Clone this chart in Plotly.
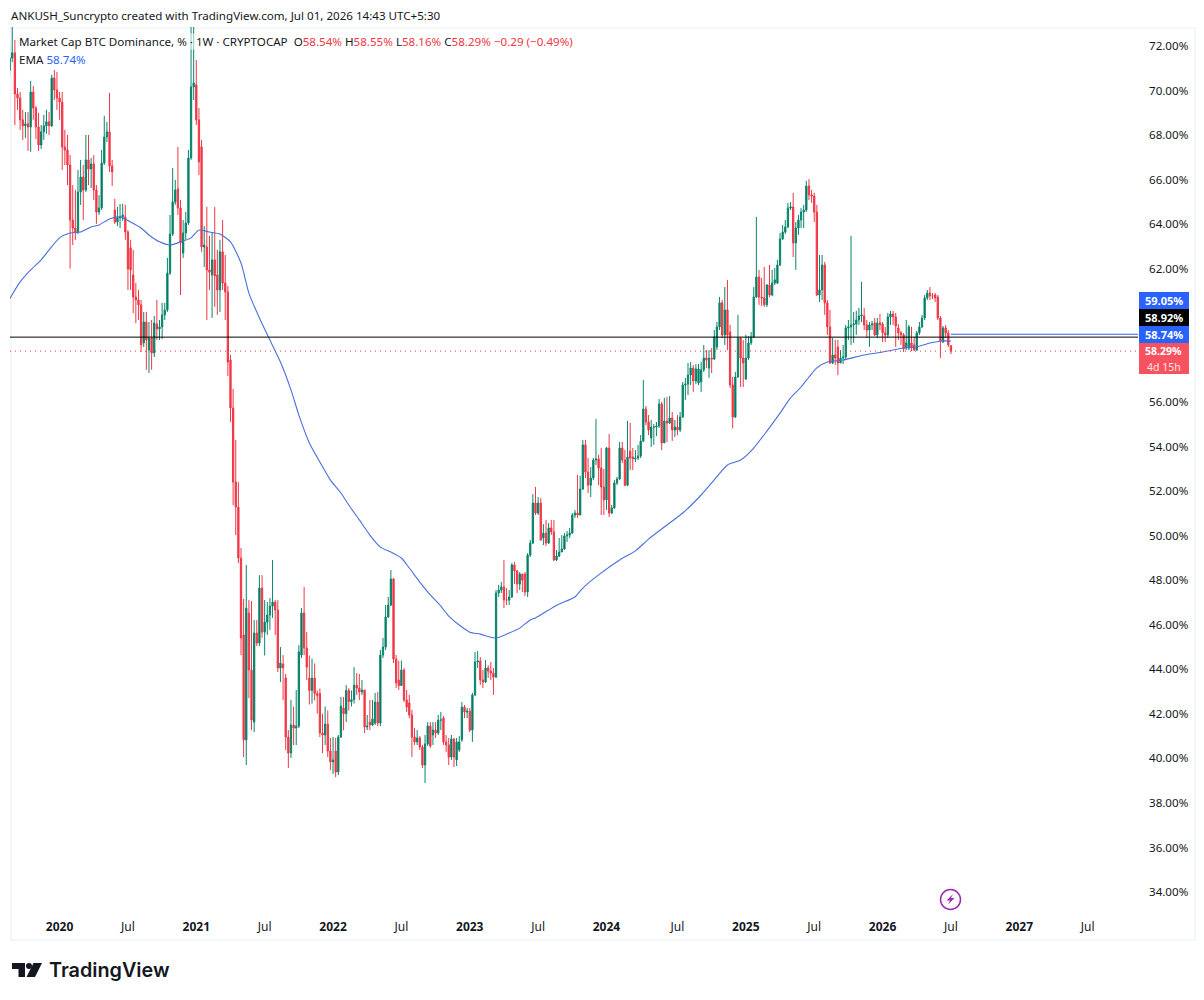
import pandas as pd
import plotly.graph_objects as go

# Weekly BTC dominance, percent. Rows hold ten weeks each.
closes = [
71.46,71.69,69.84,69.66,68.68,68.41,68.50,68.36,69.93,69.21,
68.36,67.55,68.14,68.41,68.59,68.41,70.56,70.02,69.66,69.48,
67.46,67.33,66.65,64.18,63.82,63.64,65.44,66.11,65.53,66.88,
66.47,66.70,65.53,64.54,64.72,66.74,67.91,68.14,66.61,66.34,
64.09,64.27,64.32,64.41,63.64,61.98,61.94,60.72,60.59,60.37,
58.57,59.60,58.79,58.88,58.21,59.56,59.29,59.38,59.92,60.14,
61.80,63.55,64.99,65.53,64.72,63.15,63.60,64.05,66.97,70.16,
70.34,68.68,66.79,62.97,63.06,61.94,61.84,62.39,61.67,61.04,
62.75,61.35,60.95,57.80,55.74,52.41,51.29,49.00,45.41,40.83,
46.75,43.97,41.72,45.63,45.18,47.65,45.67,46.12,46.44,46.84,
47.02,46.66,44.06,44.28,44.06,40.96,40.24,41.50,41.36,41.45,
44.78,46.53,44.96,44.10,43.05,43.61,42.91,42.82,41.14,41.05,
41.54,40.33,39.84,39.93,39.39,40.96,42.35,42.01,43.05,42.55,
42.64,43.29,43.16,42.98,43.07,41.41,41.45,41.50,41.77,42.53,
41.59,44.64,45.00,46.35,46.89,48.06,44.46,43.39,43.27,43.97,
42.62,42.31,41.95,40.96,40.74,40.92,40.51,39.70,40.65,41.45,
40.56,41.27,41.14,41.72,41.72,40.74,40.60,40.06,40.87,40.06,
40.74,40.74,42.30,42.08,42.12,41.27,42.85,44.33,44.37,43.52,
43.43,44.06,43.92,43.83,43.65,47.43,47.56,47.70,47.11,47.11,
47.25,48.69,48.42,47.83,48.28,48.01,47.47,49.13,49.67,51.47,
51.02,51.47,49.81,50.12,49.67,50.35,50.17,48.91,49.09,49.27,
49.41,49.99,50.03,50.12,50.93,51.02,50.93,52.10,54.08,52.86,
52.27,52.59,53.40,53.45,53.04,52.19,51.61,53.94,51.02,51.25,
52.37,52.55,53.94,53.40,52.27,53.54,53.49,53.45,53.49,53.58,
54.25,55.69,55.11,54.75,54.88,54.88,54.93,55.92,54.17,55.15,
55.06,55.29,54.75,54.88,54.75,55.33,56.77,56.81,57.22,57.53,
56.95,57.49,57.49,57.45,57.98,57.89,57.98,57.94,58.93,59.38,
60.46,59.02,60.14,59.02,56.77,55.33,57.13,58.88,57.98,57.76,
57.98,58.66,58.93,60.72,61.62,60.72,60.68,60.37,61.26,60.81,
61.35,61.49,62.16,63.33,63.64,63.87,64.72,64.77,63.15,63.82,
64.18,64.54,64.63,65.71,65.31,65.26,64.54,60.81,61.04,62.16,
60.46,59.38,57.76,58.12,57.98,57.76,57.98,58.03,59.33,59.38,
59.47,59.51,59.69,59.87,59.92,59.47,59.24,59.47,59.51,59.02,
59.56,59.47,59.11,59.02,59.83,59.96,59.83,59.42,59.11,59.02,
58.39,58.66,59.38,58.43,58.34,59.11,59.38,59.78,60.68,60.90,
60.77,60.77,60.68,59.78,58.75,59.33,59.11,58.57,58.29,
]
highs = [
72.00,72.85,72.27,70.11,69.93,69.13,69.03,69.03,70.43,70.20,
69.30,68.99,68.45,68.90,69.13,69.03,70.70,70.92,70.83,69.93,
69.93,68.23,68.00,67.10,65.75,65.53,66.43,66.88,66.65,68.00,
68.00,66.97,67.10,65.75,65.30,67.33,68.86,68.59,69.89,66.88,
65.13,64.77,64.90,64.90,64.86,63.73,63.29,62.84,61.35,61.04,
60.59,60.05,60.05,59.60,59.69,59.87,60.59,59.69,60.46,60.46,
62.48,64.41,66.52,65.98,67.46,65.08,64.18,64.54,67.33,72.85,
72.85,71.37,69.21,67.78,63.91,64.77,63.47,63.60,64.77,62.84,
63.29,64.18,62.61,61.22,58.12,56.59,54.30,52.41,49.45,47.16,
48.69,47.11,47.07,46.21,46.21,48.23,48.23,47.11,47.02,47.20,
48.91,47.11,47.11,45.00,44.64,43.79,41.27,42.62,42.33,43.07,
45.09,46.75,47.70,45.68,44.62,44.48,44.26,43.05,43.14,42.01,
42.33,42.15,40.92,40.96,40.92,41.05,42.76,42.76,43.29,43.16,
43.05,44.10,43.83,43.79,43.52,43.07,41.95,42.62,42.62,42.94,
42.98,44.87,45.41,46.89,47.25,48.46,48.10,44.64,44.39,44.39,
44.06,43.07,42.85,42.17,41.36,41.27,41.00,40.60,41.05,41.63,
41.63,41.63,41.63,41.95,42.08,41.90,41.05,40.92,41.05,40.92,
40.92,41.00,42.53,42.40,42.26,42.26,42.94,44.78,44.82,44.55,
43.97,44.42,44.19,44.33,44.06,47.56,47.79,47.92,48.91,47.65,
47.56,48.77,48.82,48.46,48.37,48.28,48.37,49.22,49.81,51.87,
52.19,51.74,51.69,50.52,50.71,50.57,50.71,50.71,49.36,49.90,
50.03,50.12,50.21,50.35,51.02,51.16,52.73,52.69,54.30,54.30,
53.49,53.09,53.49,55.25,53.63,53.94,53.00,53.99,54.57,51.38,
52.50,52.64,54.21,54.21,53.85,55.16,55.07,53.94,53.85,54.08,
54.52,57.00,55.83,55.42,55.20,55.02,55.11,56.14,56.01,56.19,
56.23,56.27,55.56,55.20,55.42,55.56,56.91,57.09,57.76,57.80,
57.67,57.71,57.71,57.80,58.57,58.34,58.34,58.43,59.24,59.60,
60.73,60.59,61.17,61.49,59.47,57.13,57.36,59.92,58.93,58.79,
59.02,58.97,59.15,61.17,64.32,61.94,61.58,62.07,61.31,62.16,
61.94,62.03,62.39,63.60,63.96,64.18,64.95,64.99,65.40,64.09,
64.41,64.72,64.86,65.94,66.02,65.53,65.40,64.86,62.61,62.61,
62.30,60.59,60.14,58.88,58.79,58.79,58.34,58.57,59.47,59.69,
63.47,60.05,60.10,60.23,61.40,60.23,59.69,59.60,59.65,59.78,
59.78,59.96,59.60,59.38,60.01,60.10,60.10,60.01,59.51,59.20,
59.11,59.69,59.47,59.38,58.93,59.20,59.60,59.92,60.81,61.04,
61.17,60.90,60.90,60.81,59.87,59.42,59.47,59.24,58.55,
]
lows = [
70.65,71.28,68.45,69.13,68.23,67.78,67.87,67.28,67.24,68.68,
67.82,67.28,67.37,67.78,68.05,68.00,68.36,69.57,69.13,68.68,
66.43,66.65,65.75,62.00,63.06,63.29,63.55,64.86,64.18,65.44,
65.75,65.62,65.08,64.00,64.41,64.63,66.65,67.69,66.34,65.71,
64.00,63.91,63.82,64.14,63.29,61.04,61.04,60.00,59.55,59.69,
58.25,58.48,57.45,57.31,57.45,58.03,58.79,58.79,58.84,59.69,
60.05,61.71,63.46,64.86,64.41,60.81,62.48,63.29,63.96,66.88,
69.57,68.45,66.20,62.75,62.07,59.69,61.04,59.78,60.28,59.92,
60.05,61.04,59.69,57.17,55.11,51.38,50.03,48.77,44.64,40.06,
39.70,42.71,41.27,41.18,45.05,45.05,45.41,44.62,45.54,45.77,
46.31,45.54,43.88,43.43,42.62,40.38,39.57,40.02,40.60,40.60,
41.36,44.51,44.64,43.52,42.42,42.46,42.60,42.01,40.96,40.24,
40.60,40.06,39.48,39.30,39.16,39.25,40.92,41.27,41.63,42.15,
42.33,42.46,42.85,42.62,42.85,41.14,41.27,41.27,41.45,41.50,
41.45,41.45,44.51,44.87,46.31,46.84,44.28,43.16,43.07,43.52,
42.53,42.08,41.81,40.06,40.60,40.60,40.38,39.57,38.89,40.56,
40.47,40.60,40.92,41.05,41.27,40.60,40.29,39.70,39.93,39.61,
39.66,40.29,40.74,41.81,41.81,41.18,40.74,42.80,44.06,43.30,
43.16,43.39,43.61,43.52,42.85,43.61,47.25,47.43,46.75,46.89,
46.89,47.20,47.83,47.43,47.56,47.47,47.29,47.25,49.04,49.63,
50.93,50.93,49.77,49.58,49.54,49.63,50.03,48.86,48.86,49.04,
49.27,49.36,49.72,49.90,50.08,50.80,50.80,50.93,52.05,52.59,
51.92,51.74,52.50,53.18,52.27,50.93,50.93,51.16,50.84,50.97,
51.20,52.27,52.50,53.27,52.23,52.23,52.95,52.95,53.31,53.40,
53.49,54.21,54.97,54.52,53.99,54.08,54.48,54.84,53.85,54.17,
54.21,55.02,54.26,54.43,54.52,54.66,55.29,56.10,56.32,56.77,
56.46,56.81,56.77,56.46,57.36,57.53,57.09,57.31,57.89,58.34,
59.24,58.88,58.57,58.34,56.64,54.82,55.29,57.09,56.68,56.68,
57.00,57.89,58.57,58.88,60.68,60.37,60.32,60.28,60.28,60.72,
60.77,61.26,61.31,62.12,63.29,63.55,63.82,64.63,62.52,61.94,
63.51,63.82,63.82,64.54,65.08,64.95,64.09,60.77,60.50,60.59,
59.92,59.02,57.71,57.71,57.67,57.22,57.76,57.71,57.89,58.79,
58.57,58.66,59.02,59.47,59.60,59.24,58.88,58.48,59.24,58.97,
58.88,59.24,58.70,58.70,58.88,59.47,59.47,58.48,58.79,58.57,
58.25,58.34,58.34,58.30,58.30,58.30,59.02,59.33,59.69,60.59,
60.59,60.63,60.50,59.69,57.98,58.66,58.88,58.48,58.16,
]
# Weeks that opened away from the previous close.
gap_opens = {
    0: 70.90, 40: 64.63, 44: 64.32, 46: 62.93, 47: 61.71, 51: 58.66, 53: 58.34, 54: 58.88,
    56: 59.51, 64: 65.58, 66: 62.70, 71: 70.25, 73: 67.46, 75: 62.97, 77: 61.71, 79: 61.71,
    84: 57.89, 89: 45.54, 91: 46.53, 93: 41.63, 104: 44.24, 105: 43.61, 111: 44.64,
    114: 43.61, 118: 42.91, 124: 40.33, 127: 42.26, 137: 41.63, 139: 41.59, 148: 43.52,
    152: 42.49, 161: 41.05, 165: 41.81, 170: 39.93, 171: 40.38, 172: 40.83, 196: 48.28,
    203: 49.90, 236: 53.80, 237: 53.54, 244: 54.39, 262: 56.86, 263: 56.91, 266: 57.53,
    269: 58.48, 274: 59.15, 280: 57.04, 292: 61.35, 315: 58.48, 325: 59.87, 329: 59.56,
    332: 59.51, 338: 59.33, 341: 58.48, 342: 58.43, 343: 58.66, 344: 58.57, 352: 60.81,
    353: 60.72, 355: 58.70, 358: 58.54,
}
# Long exponential average, sampled at these week numbers.
ema_weeks = [
    0, 4, 8, 12, 15, 19, 23, 27, 31, 34, 38, 42, 46, 50, 53, 57, 61, 65, 69, 72, 76, 80, 84, 88,
    91, 95, 99, 103, 107, 110, 114, 118, 122, 126, 129, 133, 137, 141, 145, 149, 152, 156, 160,
    164, 167, 171, 175, 179, 185, 190, 194, 198, 200, 205, 209, 215, 218, 224, 232, 238, 243,
    251, 256, 263, 267, 273, 278, 283, 288, 293, 297, 301, 304, 307, 311, 317, 325, 332, 340,
    345, 350, 355, 358,
]
ema_values = [
    60.64, 61.40, 61.94, 62.39, 62.84, 63.38, 63.60, 63.64, 63.87, 63.96, 64.23, 64.32, 64.09,
    63.82, 63.51, 63.20, 63.06, 63.20, 63.38, 63.73, 63.64, 63.55, 63.20, 62.25, 60.90, 59.78,
    58.79, 57.80, 56.55, 55.42, 54.17, 53.31, 52.50, 51.92, 51.38, 50.71, 50.03, 49.49, 49.27,
    49.00, 48.55, 47.92, 47.34, 46.84, 46.39, 45.99, 45.67, 45.58, 45.40, 45.63, 45.85, 46.22,
    46.31, 46.66, 46.93, 47.25, 47.65, 48.24, 48.91, 49.32, 49.85, 50.57, 51.02, 51.83, 52.37,
    53.18, 53.40, 53.94, 54.70, 55.51, 56.19, 56.68, 57.13, 57.54, 57.80, 57.89, 58.12, 58.25,
    58.43, 58.48, 58.66, 58.75, 58.74,
]
# 58 and 60 sit behind the price tags, so the scale leaves them out.
price_ticks = [34, 36, 38, 40, 42, 44, 46, 48, 50, 52, 54, 56, 62, 64, 66, 68, 70, 72]
time_ticks = [
    "2019-12-30", "2020-06-29", "2020-12-28", "2021-06-28", "2021-12-27", "2022-06-27",
    "2022-12-26", "2023-06-26", "2023-12-25", "2024-07-01", "2024-12-30", "2025-06-30",
    "2025-12-29", "2026-06-29", "2026-12-28", "2027-06-28",
]
time_labels = [
    "<b>2020</b>", "Jul", "<b>2021</b>", "Jul", "<b>2022</b>", "Jul", "<b>2023</b>", "Jul",
    "<b>2024</b>", "Jul", "<b>2025</b>", "Jul", "<b>2026</b>", "Jul", "<b>2027</b>", "Jul",
]

UP, DOWN, EMA_BLUE = "#07866C", "#F23645", "#4A6FDC"
INK, FONT = "#131722", "Noto Sans"
W, H = 1204, 1000
PANE_L, PANE_R, PANE_T, PANE_B = 10, 1138, 27, 908

weeks = pd.date_range(end="2026-06-29", periods=len(closes), freq="7D")
opens = [gap_opens.get(i, closes[i - 1]) for i in range(len(closes))]


def px(x):
    return (x - PANE_L) / (PANE_R - PANE_L)


def py(y):
    return 1 - (y - PANE_T) / (PANE_B - PANE_T)


def note(x, y, text, size=12, color=INK, xanchor="left", family=FONT, **kw):
    return dict(
        xref="paper", yref="paper", x=px(x), y=py(y), text=text, showarrow=False,
        xanchor=xanchor, yanchor="middle", align="left", borderpad=0,
        font=dict(family=family, size=size, color=color), **kw,
    )


def box(x0, y0, x1, y1, fill, line_width=0, line_color=None, kind="rect", layer="above"):
    return dict(
        type=kind, xref="paper", yref="paper", x0=px(x0), x1=px(x1), y0=py(y0), y1=py(y1),
        fillcolor=fill, line=dict(width=line_width, color=line_color), layer=layer,
    )


def outline(points, fill):
    path = "M " + " L ".join(f"{px(a)} {py(b)}" for a, b in points) + " Z"
    return dict(type="path", xref="paper", yref="paper", path=path, fillcolor=fill,
                line=dict(width=0), layer="above")


fig = go.Figure()
fig.add_trace(go.Candlestick(
    x=weeks, open=opens, high=highs, low=lows, close=closes,
    increasing=dict(line=dict(color=UP, width=1), fillcolor="#0A6F55"),
    decreasing=dict(line=dict(color=DOWN, width=1), fillcolor=DOWN),
    whiskerwidth=0,
))
fig.add_trace(go.Scatter(
    x=weeks[ema_weeks], y=ema_values, mode="lines",
    line=dict(color=EMA_BLUE, width=1.1, shape="spline", smoothing=0.6), hoverinfo="skip",
))

shapes = [
    # Frame round the chart and its axes
    box(11, 28, 1195, 940, "rgba(0,0,0,0)", 1.5, "#F0F3FA", layer="below"),
    # Price lines
    dict(type="line", xref="paper", yref="y", x0=0, x1=1, y0=58.92, y1=58.92,
         line=dict(color="#000000", width=1)),
    dict(type="line", xref="paper", yref="y", x0=0, x1=1, y0=closes[-1], y1=closes[-1],
         line=dict(color=DOWN, width=1, dash="1px,4px")),
    dict(type="line", xref="x", yref="y", x0=weeks[-1], x1="2027-11-09", y0=59.05, y1=59.05,
         line=dict(color="#2962FF", width=1)),
    # Price tags on the scale
    box(1139, 292, 1189, 309, "#2962FF"),
    box(1139, 309, 1189, 326, "#000000"),
    box(1139, 326, 1189, 343, "#2962FF"),
    box(1139, 343, 1189, 374, "#F7525F"),
    # Event marker
    box(940.5, 889.5, 960.5, 909.5, "rgba(0,0,0,0)", 1.5, "#9C27B0", kind="circle"),
    outline([(953, 894), (946.5, 900.5), (950, 900.5), (948, 904.5), (954.5, 898), (951, 898)], "#9C27B0"),
    # Logo mark
    outline([(12, 963), (25, 963), (25, 977), (18.5, 977), (18.5, 969), (12, 969)], INK),
    box(26, 963, 32, 969, INK, kind="circle"),
    outline([(33.5, 963), (42, 963), (35, 977), (26.5, 977)], INK),
]

annotations = [
    note(10, 15, "ANKUSH_Suncrypto created with TradingView.com, Jul 01, 2026 14:43 UTC+5:30", size=11.6),
    note(18, 42,
         "Market Cap BTC Dominance, % · 1W · CRYPTOCAP"
         f"  O<span style='color:{DOWN}'>58.54%</span>"
         f" H<span style='color:{DOWN}'>58.55%</span>"
         f" L<span style='color:{DOWN}'>58.16%</span>"
         f" C<span style='color:{DOWN}'>58.29%</span>"
         f" <span style='color:{DOWN}'>−0.29 (−0.49%)</span>",
         size=11.6, bgcolor="rgba(255,255,255,0.55)"),
    note(18, 59, "EMA <span style='color:#2962FF'>58.74%</span>", size=11.6,
         bgcolor="rgba(255,255,255,0.55)"),
    note(1164, 300.5, "<b>59.05%</b>", size=11, color="#FFFFFF", xanchor="center"),
    note(1164, 317.5, "<b>58.92%</b>", size=11, color="#FFFFFF", xanchor="center"),
    note(1164, 334.5, "<b>58.74%</b>", size=11, color="#FFFFFF", xanchor="center"),
    note(1164, 351, "<b>58.29%</b>", size=10.5, color="#FFFFFF", xanchor="center"),
    note(1164, 366.5, "4d 15h", size=10.5, color="#FFE3E6", xanchor="center"),
    note(48, 970, "<span style='font-weight:600'>TradingView</span>", size=19.8, family="Inter"),
]

fig.update_layout(
    width=W, height=H, paper_bgcolor="white", plot_bgcolor="white", showlegend=False,
    margin=dict(l=PANE_L, r=W - PANE_R, t=PANE_T, b=H - PANE_B, pad=0),
    font=dict(family=FONT, size=12, color=INK),
    shapes=shapes, annotations=annotations,
    xaxis=dict(
        type="date", range=["2019-08-20", "2027-11-09"], rangeslider=dict(visible=False),
        tickmode="array", tickvals=time_ticks, ticktext=time_labels, showgrid=False,
        zeroline=False, showline=False, ticks="", ticklabelstandoff=10,
        tickfont=dict(family=FONT, size=12, color=INK),
    ),
    yaxis=dict(
        side="right", range=[33.28, 72.85], tickmode="array", tickvals=price_ticks,
        ticktext=[f"{v:.2f}%" for v in price_ticks], showgrid=False, zeroline=False,
        showline=False, ticks="", ticklabelstandoff=10,
        tickfont=dict(family=FONT, size=11.6, color=INK),
    ),
)

fig.write_html("out.html")
